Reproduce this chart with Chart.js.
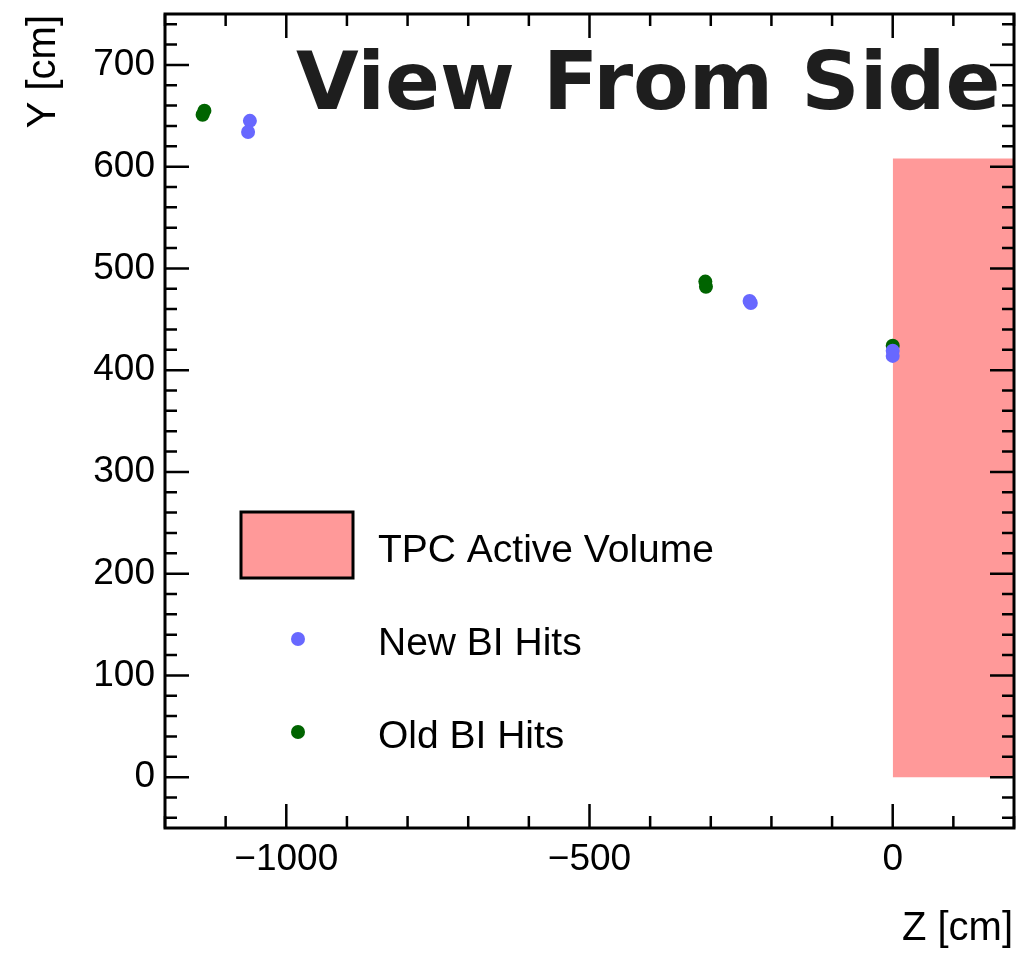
<!DOCTYPE html>
<html>
<head>
<meta charset="utf-8">
<script src="https://cdn.jsdelivr.net/npm/chart.js@4/dist/chart.umd.min.js"></script>
<style>
  html, body { margin: 0; padding: 0; background: #fff; }
  #wrap { width: 1017px; height: 953px; }
</style>
</head>
<body>
<div id="wrap"><canvas id="side" width="1017" height="953"></canvas></div>
<script>
// Beam instrumentation hits, side projection: Z and Y in cm
const newHitsZ = [-1060, -1063, -236, -234, 0, 0];
const newHitsY = [645, 634, 468, 466, 419, 414];
const oldHitsZ = [-1138, -1135, -309, -308, 0];
const oldHitsY = [651, 655, 487, 482, 424];

// TPC active volume: starts at Z = 0 and runs past the right edge, Y from 0 up
const tpcZ = [0, 200];
const tpcTop = 608;

const xTicks = [-1000, -500, 0];
const yTicks = [0, 100, 200, 300, 400, 500, 600, 700];

const BLUE = '#6868ff';
const GREEN = '#006400';
const TPC_FILL = '#ff9999';
const FONT = '"Liberation Sans", Arial, sans-serif';
const MARKER_R = 7;

const toPoints = (xs, ys) => xs.map((x, i) => ({ x, y: ys[i] }));
const minus = (v) => String(v).replace('-', '\u2212');

// no automatic label overhang padding, the pad margins are fixed
const noPadding = (s) => {
  s.paddingTop = 0; s.paddingBottom = 0; s.paddingLeft = 0; s.paddingRight = 0;
};

// ROOT-like frame: box around the pad with inward major/minor ticks on all sides,
// plus title, axis titles and the legend.
const rootFrame = {
  id: 'rootFrame',
  afterDraw(chart) {
    const { ctx, chartArea: a, scales: { x, y } } = chart;
    ctx.save();
    ctx.strokeStyle = '#000';
    ctx.lineWidth = 2.5;
    ctx.beginPath();
    for (let v = -1200; v <= 200; v += 100) {
      const px = x.getPixelForValue(v);
      const len = v % 500 === 0 ? 24 : 12;
      ctx.moveTo(px, a.bottom); ctx.lineTo(px, a.bottom - len);
      ctx.moveTo(px, a.top); ctx.lineTo(px, a.top + len);
    }
    for (let v = -40; v <= 740; v += 20) {
      const py = y.getPixelForValue(v);
      const len = v % 100 === 0 ? 24 : 12;
      ctx.moveTo(a.left, py); ctx.lineTo(a.left + len, py);
      ctx.moveTo(a.right, py); ctx.lineTo(a.right - len, py);
    }
    ctx.stroke();
    ctx.lineWidth = 3;
    ctx.strokeRect(a.left, a.top, a.right - a.left, a.bottom - a.top);

    // title
    ctx.fillStyle = '#1e1e1e';
    ctx.font = 'bold 81px "DejaVu Sans", sans-serif';
    ctx.textAlign = 'left';
    ctx.textBaseline = 'alphabetic';
    ctx.fillText('View From Side', 296, 109);

    // axis titles
    ctx.fillStyle = '#000';
    ctx.font = '40px ' + FONT;
    ctx.textAlign = 'right';
    ctx.fillText('Z [cm]', 1013, 940);
    ctx.save();
    ctx.translate(55, 15);
    ctx.rotate(-Math.PI / 2);
    ctx.fillText('Y [cm]', 0, 0);
    ctx.restore();

    // legend
    ctx.fillStyle = TPC_FILL;
    ctx.fillRect(241, 512, 112, 66);
    ctx.lineWidth = 3;
    ctx.strokeRect(241, 512, 112, 66);
    ctx.fillStyle = BLUE;
    ctx.beginPath(); ctx.arc(298, 639, MARKER_R, 0, Math.PI * 2); ctx.fill();
    ctx.fillStyle = GREEN;
    ctx.beginPath(); ctx.arc(298, 732, MARKER_R, 0, Math.PI * 2); ctx.fill();
    ctx.fillStyle = '#000';
    ctx.font = '39px ' + FONT;
    ctx.textAlign = 'left';
    ctx.fillText('TPC Active Volume', 378, 562);
    ctx.fillText('New BI Hits', 378, 655);
    ctx.fillText('Old BI Hits', 378, 748);
    ctx.restore();
  }
};

new Chart(document.getElementById('side'), {
  type: 'scatter',
  data: {
    datasets: [
      {
        label: 'New BI Hits',
        data: toPoints(newHitsZ, newHitsY),
        backgroundColor: BLUE,
        borderWidth: 0,
        pointRadius: MARKER_R,
      },
      {
        label: 'Old BI Hits',
        data: toPoints(oldHitsZ, oldHitsY),
        backgroundColor: GREEN,
        borderWidth: 0,
        pointRadius: MARKER_R,
      },
      {
        label: 'TPC Active Volume',
        type: 'line',
        showLine: true,
        data: tpcZ.map((z) => ({ x: z, y: tpcTop })),
        fill: 'origin',
        backgroundColor: TPC_FILL,
        borderColor: 'rgba(0,0,0,0)',
        borderWidth: 0,
        pointRadius: 0,
      },
    ],
  },
  options: {
    responsive: false,
    animation: false,
    devicePixelRatio: 1,
    events: [],
    layout: { autoPadding: false, padding: { top: 14, right: 3, left: 0, bottom: 0 } },
    plugins: { legend: { display: false }, tooltip: { enabled: false } },
    scales: {
      x: {
        type: 'linear',
        min: -1200,
        max: 200,
        afterBuildTicks: (s) => { s.ticks = xTicks.map((value) => ({ value })); },
        afterFit: (s) => { s.height = 125; noPadding(s); },
        grid: { display: false, drawTicks: false },
        border: { display: false },
        ticks: {
          color: '#000',
          font: { family: FONT, size: 37 },
          padding: 10,
          maxRotation: 0,
          autoSkip: false,
          callback: (v) => minus(v),
        },
      },
      y: {
        type: 'linear',
        min: -50,
        max: 750,
        afterBuildTicks: (s) => { s.ticks = yTicks.map((value) => ({ value })); },
        afterFit: (s) => { s.width = 165; noPadding(s); },
        grid: { display: false, drawTicks: false },
        border: { display: false },
        ticks: {
          color: '#000',
          font: { family: FONT, size: 37 },
          padding: 10,
          autoSkip: false,
          callback: (v) => minus(v),
        },
      },
    },
  },
  plugins: [rootFrame],
});
</script>
</body>
</html>
